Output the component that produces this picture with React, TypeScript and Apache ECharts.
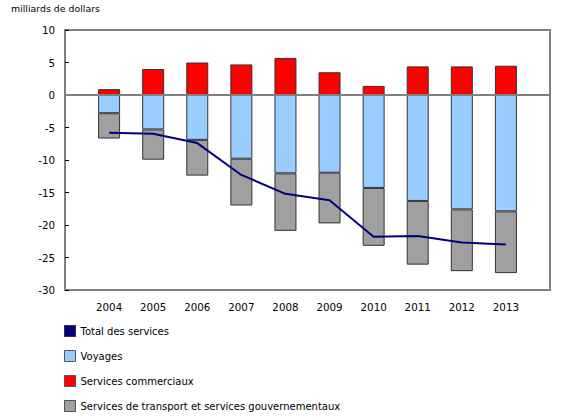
import React, { useEffect, useRef } from "react";
import * as echarts from "echarts";

const years = [2004, 2005, 2006, 2007, 2008, 2009, 2010, 2011, 2012, 2013];
const voyages = [-2.8, -5.3, -6.9, -9.8, -12.05, -11.95, -14.3, -16.3, -17.6, -17.9];
const commerciaux = [0.9, 4.0, 5.0, 4.7, 5.7, 3.5, 1.4, 4.4, 4.4, 4.5];
const transport = [-3.9, -4.65, -5.5, -7.2, -8.85, -7.8, -8.9, -9.8, -9.5, -9.5];
const total = [-5.8, -5.95, -7.4, -12.3, -15.2, -16.2, -21.8, -21.7, -22.7, -23.0];
const yTicks = [10, 5, 0, -5, -10, -15, -20, -25, -30];

const FONT = "DejaVu Sans";

export default function App() {
  const ref = useRef<HTMLDivElement>(null);
  useEffect(() => {
    const chart = echarts.init(ref.current!, null, { renderer: "svg" });
    // pad the category axis with one empty slot on each side
    const cats = [String(years[0] - 1), ...years.map(String), String(years[years.length - 1] + 1)];
    const pad = (arr: number[]) => ["-", ...arr, "-"];
    chart.setOption({
      animation: false,
      textStyle: { fontFamily: FONT },
      title: {
        text: "milliards de dollars",
        left: 11,
        top: 4,
        padding: 0,
        textStyle: { fontFamily: FONT, fontSize: 9.4, fontWeight: "normal", color: "#000" },
      },
      grid: {
        left: 65,
        right: 30,
        top: 30,
        bottom: 130,
        show: true,
        borderColor: "#808080",
        borderWidth: 2,
        backgroundColor: "transparent",
      },
      legend: {
        orient: "vertical",
        left: 64,
        top: 325,
        padding: 0,
        itemWidth: 11,
        itemHeight: 11,
        itemGap: 13,
        selectedMode: false,
        textStyle: { fontFamily: FONT, fontSize: 10, color: "#000", lineHeight: 11, height: 11 },
        data: [
          { name: "Total des services", icon: "rect", itemStyle: { color: "#000080", borderColor: "#333", borderWidth: 1 } },
          { name: "Voyages", icon: "rect", itemStyle: { color: "#99ccff", borderColor: "#555", borderWidth: 1 } },
          { name: "Services commerciaux", icon: "rect", itemStyle: { color: "#ff0000", borderColor: "#555", borderWidth: 1 } },
          { name: "Services de transport et services gouvernementaux", icon: "rect", itemStyle: { color: "#a0a0a0", borderColor: "#555", borderWidth: 1 } },
        ],
      },
      xAxis: {
        type: "category",
        data: cats,
        boundaryGap: false,
        axisLine: { show: true, onZero: false, lineStyle: { color: "#808080", width: 2 } },
        axisTick: { show: false },
        splitLine: { show: false },
        axisLabel: {
          fontFamily: FONT,
          fontSize: 10.3,
          color: "#000",
          margin: 12,
          interval: 0,
          formatter: (v: string) => (years.map(String).includes(v) ? v : ""),
        },
      },
      yAxis: {
        type: "value",
        min: -30,
        max: 10,
        interval: 5,
        axisLine: { show: true, lineStyle: { color: "#808080", width: 2 } },
        axisTick: { show: true, inside: true, length: 4, lineStyle: { color: "#000", width: 1 } },
        splitLine: { show: false },
        axisLabel: {
          fontFamily: FONT,
          fontSize: 10.3,
          color: "#000",
          margin: 10,
          formatter: (v: number) => (yTicks.includes(v) ? String(v) : ""),
        },
      },
      series: [
        {
          name: "Voyages",
          type: "bar",
          stack: "s",
          barWidth: 22,
          data: pad(voyages),
          itemStyle: { color: "#99ccff", borderColor: "#333", borderWidth: 1 },
        },
        {
          name: "Services de transport et services gouvernementaux",
          type: "bar",
          stack: "s",
          barWidth: 22,
          data: pad(transport),
          itemStyle: { color: "#a0a0a0", borderColor: "#333", borderWidth: 1 },
        },
        {
          name: "Services commerciaux",
          type: "bar",
          stack: "s",
          barWidth: 22,
          data: pad(commerciaux),
          itemStyle: { color: "#ff0000", borderColor: "#333", borderWidth: 1 },
          markLine: {
            silent: true,
            symbol: "none",
            label: { show: false },
            lineStyle: { color: "#808080", width: 2, type: "solid" },
            data: [{ yAxis: 0 }],
          },
        },
        {
          name: "Total des services",
          type: "line",
          data: pad(total),
          showSymbol: false,
          symbol: "none",
          connectNulls: false,
          lineStyle: { color: "#000080", width: 2 },
          itemStyle: { color: "#000080" },
          z: 5,
        },
      ],
    });
    return () => chart.dispose();
  }, []);
  return <div ref={ref} style={{ width: 580, height: 420, position: "absolute", left: 0, top: 0 }} />;
}
